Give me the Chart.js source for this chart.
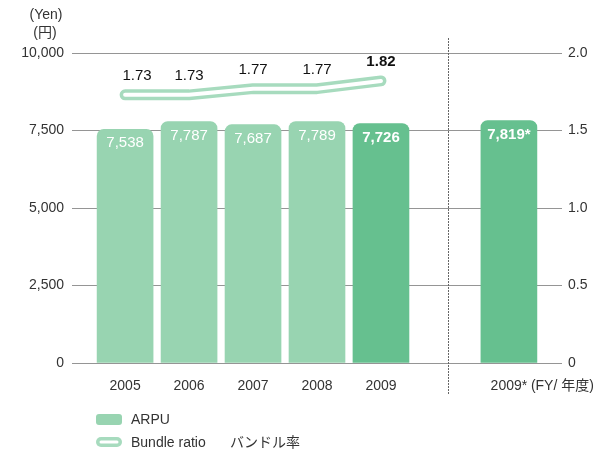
<!DOCTYPE html>
<html>
<head>
<meta charset="utf-8">
<script src="https://cdn.jsdelivr.net/npm/chart.js@4"></script>
<style>
  html, body { margin: 0; padding: 0; background: #fff; }
  #wrap { width: 596px; height: 456px; }
</style>
</head>
<body>
<div id="wrap"><canvas id="c" width="596" height="456"></canvas></div>
<script>
// ---- data ----
const categories = ['2005', '2006', '2007', '2008', '2009', '', '2009*'];
const arpu = [7538, 7787, 7687, 7789, 7726, null, 7819];
const bundleRatio = [1.73, 1.73, 1.77, 1.77, 1.82, null, null];
const yTicksLeft = [0, 2500, 5000, 7500, 10000];
const yTicksRight = [0, 0.5, 1.0, 1.5, 2.0];
const unitLabels = ['(Yen)', '(円)'];
const fyLabel = '(FY/ 年度)';
const legendLabels = ['ARPU', 'Bundle ratio', 'バンドル率'];

// ---- style ----
const FONT = '"Liberation Sans", Arial, "Noto Sans CJK JP", sans-serif';
const LIGHT = '#98d4b1';
const DARK = '#66c08f';
const LINE = '#a7dbbe';
const TEXT = '#333333';
const GRID = '#959595';

const barPoints = [];
const barColors = [];
arpu.forEach((v, i) => {
  if (v !== null) {
    barPoints.push({ x: i, y: v });
    barColors.push(i >= 4 ? DARK : LIGHT);
  }
});
const linePoints = [];
bundleRatio.forEach((v, i) => { if (v !== null) linePoints.push({ x: i, y: v }); });

const fmt = n => n.toLocaleString('en-US');

const overlay = {
  id: 'overlay',
  afterDatasetsDraw(chart) {
    const ctx = chart.ctx;
    const xs = chart.scales.x, ys = chart.scales.y, y1 = chart.scales.y1;
    const area = chart.chartArea;
    ctx.save();

    // bar value labels
    ctx.textAlign = 'center';
    ctx.textBaseline = 'middle';
    ctx.fillStyle = '#ffffff';
    arpu.forEach((v, i) => {
      if (v === null) return;
      const bold = i >= 4;
      ctx.font = (bold ? 'bold ' : '') + '15px ' + FONT;
      const star = categories[i].endsWith('*') ? '*' : '';
      ctx.fillText(fmt(v) + star, xs.getPixelForValue(i), ys.getPixelForValue(v) + 14);
    });

    // bundle ratio labels
    ctx.fillStyle = '#111111';
    bundleRatio.forEach((v, i) => {
      if (v === null) return;
      const bold = i === 4;
      ctx.font = (bold ? 'bold ' : '') + '15px ' + FONT;
      const dx = i === 0 ? 12 : 0;
      ctx.fillText(v.toFixed(2), xs.getPixelForValue(i) + dx, y1.getPixelForValue(v) - 19);
    });

    // dotted separator
    const sx = Math.round(xs.getPixelForValue(5.05)) + 0.5;
    ctx.strokeStyle = '#666666';
    ctx.lineWidth = 1;
    ctx.setLineDash([2, 1]);
    ctx.beginPath();
    ctx.moveTo(sx, area.top - 15);
    ctx.lineTo(sx, area.bottom + 32);
    ctx.stroke();
    ctx.setLineDash([]);

    // unit labels
    ctx.fillStyle = TEXT;
    ctx.font = '14px ' + FONT;
    ctx.textAlign = 'center';
    ctx.fillText(unitLabels[0], 46, 15);
    ctx.fillText(unitLabels[1], 45, 33);

    // FY label
    ctx.textAlign = 'left';
    ctx.fillText(fyLabel, xs.getPixelForValue(6) + 22, area.bottom + 23);

    // legend
    ctx.fillStyle = LIGHT;
    ctx.beginPath();
    ctx.roundRect(96, 414, 26, 11, 3);
    ctx.fill();
    ctx.fillStyle = LINE;
    ctx.beginPath();
    ctx.roundRect(96, 437, 26, 10, 5);
    ctx.fill();
    ctx.fillStyle = '#ffffff';
    ctx.beginPath();
    ctx.roundRect(99.5, 440.5, 19, 3, 1.5);
    ctx.fill();
    ctx.fillStyle = TEXT;
    ctx.font = '14px ' + FONT;
    ctx.textBaseline = 'middle';
    ctx.fillText(legendLabels[0], 131, 420);
    ctx.fillText(legendLabels[1], 131, 443);
    ctx.fillText(legendLabels[2], 230, 443);

    ctx.restore();
  }
};

new Chart(document.getElementById('c'), {
  type: 'bar',
  data: {
    datasets: [
      {
        type: 'line', label: 'inner', data: linePoints, yAxisID: 'y1', xAxisID: 'x',
        borderColor: '#ffffff', borderWidth: 4, pointRadius: 0, tension: 0,
        borderCapStyle: 'round', borderJoinStyle: 'round', order: 0
      },
      {
        type: 'line', label: 'Bundle ratio', data: linePoints, yAxisID: 'y1', xAxisID: 'x',
        borderColor: LINE, borderWidth: 11, pointRadius: 0, tension: 0,
        borderCapStyle: 'round', borderJoinStyle: 'round', order: 1
      },
      {
        type: 'bar', label: 'ARPU', data: barPoints, yAxisID: 'y', xAxisID: 'x',
        backgroundColor: barColors, barThickness: 56,
        borderRadius: 7, borderSkipped: 'start', order: 2
      }
    ]
  },
  options: {
    responsive: false,
    animation: false,
    events: [],
    layout: { padding: { top: 53, left: 0, right: 0, bottom: 0 } },
    plugins: { legend: { display: false }, tooltip: { enabled: false } },
    scales: {
      x: {
        type: 'linear',
        min: -0.83, max: 6.83,
        offset: false,
        bounds: 'data',
        grid: { display: false, offset: false },
        border: { display: false },
        afterBuildTicks: s => {
          s.ticks = categories.map((c, i) => ({ value: i, c })).filter(t => t.c !== '').map(t => ({ value: t.value }));
        },
        afterFit: s => { s.height = 93; },
        ticks: {
          autoSkip: false, maxRotation: 0, padding: 7,
          color: TEXT, font: { family: FONT, size: 14 },
          callback: v => categories[v]
        }
      },
      y: {
        position: 'left',
        min: 0, max: 10000,
        afterBuildTicks: s => { s.ticks = yTicksLeft.map(v => ({ value: v })); },
        afterFit: s => { s.width = 72; },
        grid: { color: GRID, lineWidth: 1, drawTicks: false },
        border: { display: false },
        ticks: {
          padding: 8, color: TEXT, font: { family: FONT, size: 14 },
          callback: v => fmt(v)
        }
      },
      y1: {
        position: 'right',
        min: 0, max: 2,
        afterBuildTicks: s => { s.ticks = yTicksRight.map(v => ({ value: v })); },
        afterFit: s => { s.width = 34; },
        grid: { display: false, drawTicks: false },
        border: { display: false },
        ticks: {
          padding: 6, color: TEXT, font: { family: FONT, size: 14 },
          callback: v => v === 0 ? '0' : v.toFixed(1)
        }
      }
    }
  },
  plugins: [overlay]
});
</script>
</body>
</html>
